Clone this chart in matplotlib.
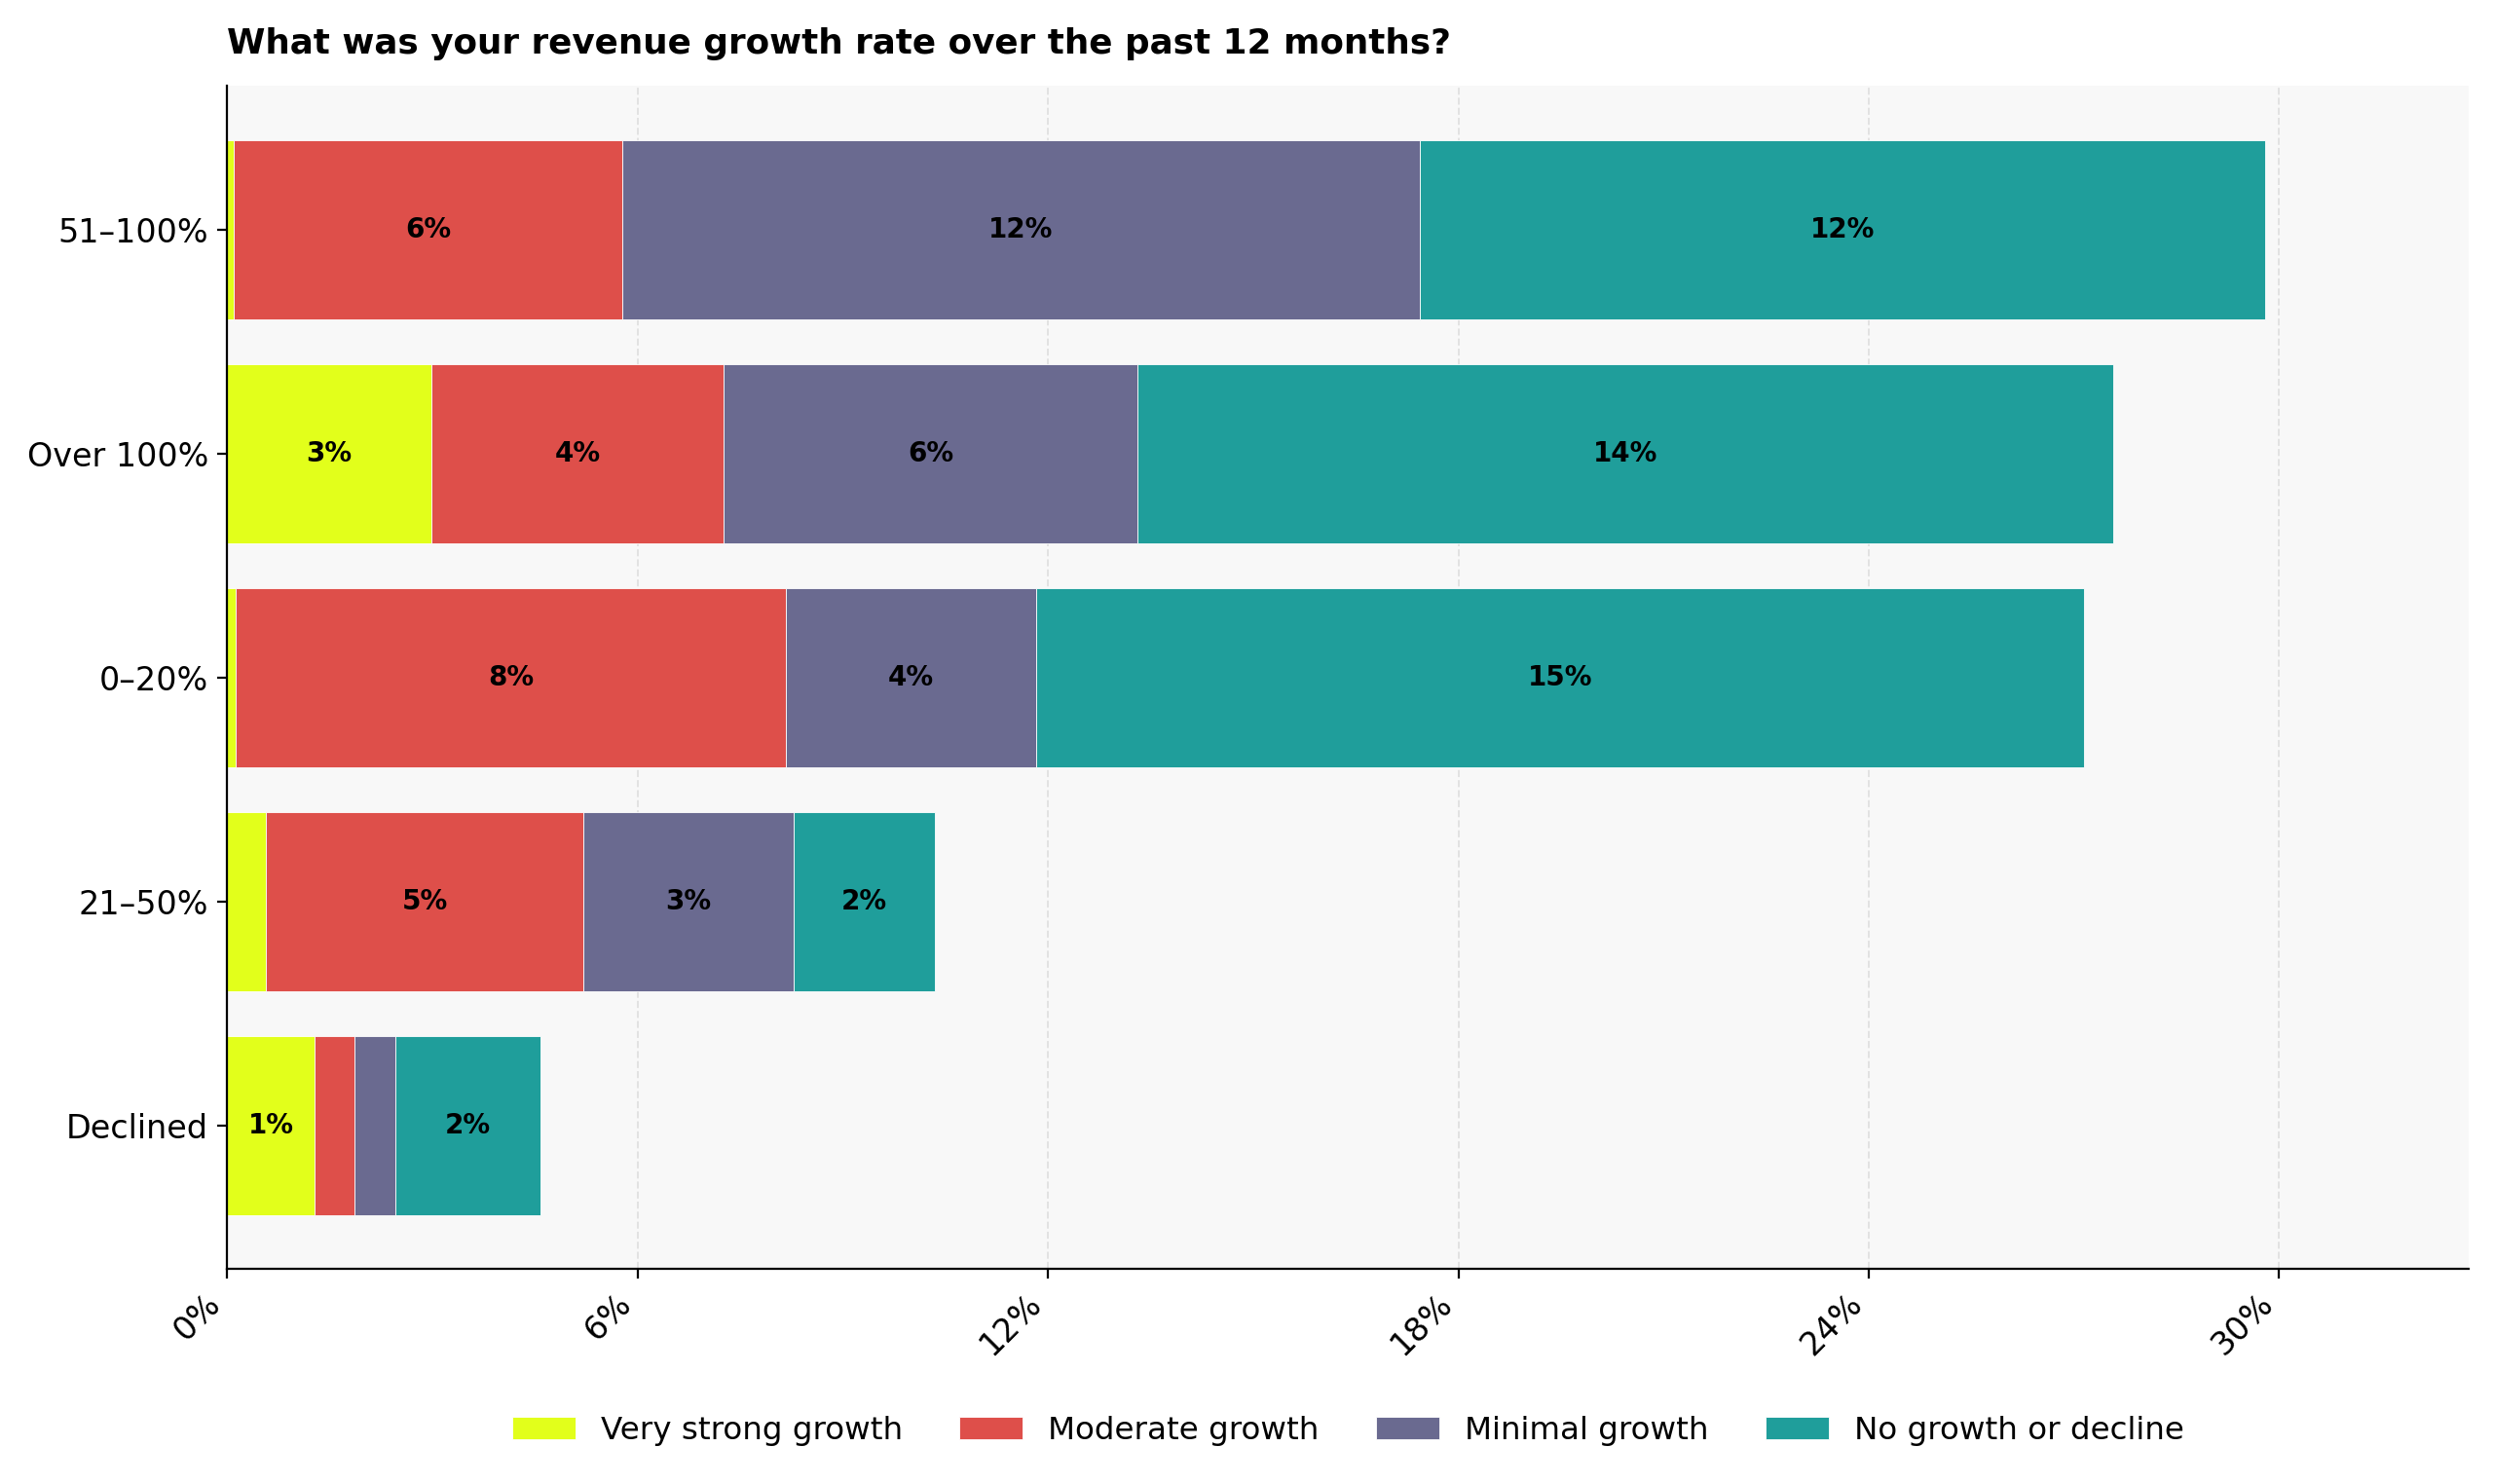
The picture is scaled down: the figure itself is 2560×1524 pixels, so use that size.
import numpy as np
import matplotlib
matplotlib.use('Agg')
import matplotlib.pyplot as plt
from matplotlib.ticker import FuncFormatter

# revenue growth buckets (top to bottom)
categories = ['51–100%', 'Over 100%', '0–20%', '21–50%', 'Declined']
series_names = ['Very strong growth', 'Moderate growth', 'Minimal growth', 'No growth or decline']
very_strong = [0.10, 2.98, 0.12, 0.56, 1.28]
moderate = [5.67, 4.28, 8.05, 4.65, 0.58]
minimal = [11.67, 6.05, 3.65, 3.07, 0.60]
no_growth = [12.35, 14.26, 15.33, 2.07, 2.12]
colors = ['#e2ff1b', '#de4f4a', '#6a6a90', '#1f9e9b']
xticks = [0, 6, 12, 18, 24, 30]

series = [very_strong, moderate, minimal, no_growth]

fig = plt.figure(figsize=(12.8, 7.62), dpi=200)
ax = fig.add_axes([0.0912, 0.145, 0.899, 0.797])
ax.set_facecolor('#f8f8f8')

y = np.arange(len(categories))[::-1]
left = np.zeros(len(categories))
for name, vals, c in zip(series_names, series, colors):
    vals = np.array(vals)
    bars = ax.barh(y, vals, left=left, height=0.8, color=c, label=name,
                   edgecolor='white', linewidth=0.3)
    for yi, l, v in zip(y, left, vals):
        if v >= 1:
            ax.text(l + v / 2, yi, f'{v:.0f}%', ha='center', va='center',
                    fontsize=10, fontweight='bold', color='black')
    left = left + vals

ax.set_yticks(y)
ax.set_yticklabels(categories, fontsize=12)
ax.set_xticks(xticks)
ax.xaxis.set_major_formatter(FuncFormatter(lambda v, p: f'{v:.0f}%'))
plt.setp(ax.get_xticklabels(), rotation=45, ha='right', fontsize=12)
ax.set_xlim(0, left.max() * 1.1)

ax.grid(axis='x', linestyle='--', color='#dddddd', linewidth=0.7, alpha=0.8)
ax.set_axisbelow(True)
ax.spines['top'].set_visible(False)
ax.spines['right'].set_visible(False)

ax.set_title('What was your revenue growth rate over the past 12 months?',
             loc='left', fontsize=12.9, fontweight='bold', pad=12)

ax.legend(loc='upper center', bbox_to_anchor=(0.5, -0.1), ncol=4,
          frameon=False, fontsize=11.7, handlelength=2, columnspacing=1.8)

fig.savefig('out.png', dpi=200)
